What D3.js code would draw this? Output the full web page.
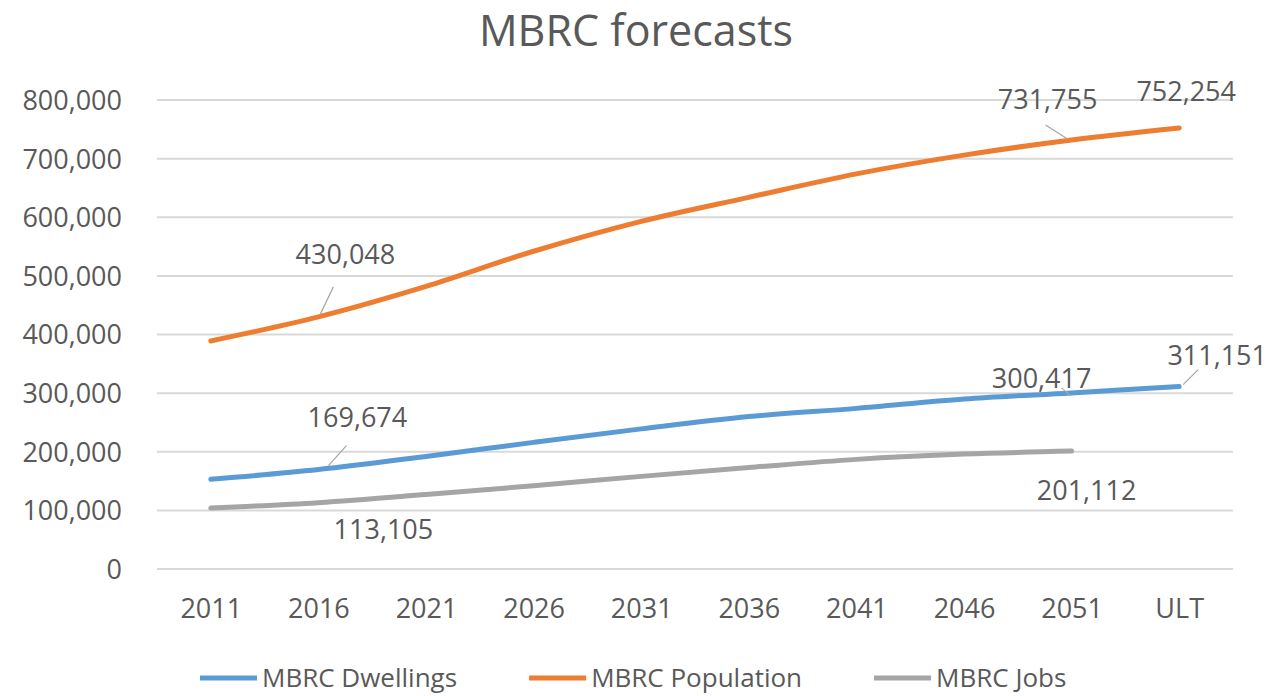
<!DOCTYPE html>
<html>
<head>
<meta charset="utf-8">
<script src="https://cdn.jsdelivr.net/npm/d3@7"></script>
<style>
  html, body { margin: 0; padding: 0; background: #fff; }
  text { font-family: "Open Sans", sans-serif; fill: #595959; }
</style>
</head>
<body>
<svg id="chart" width="1279" height="696"></svg>
<script>
const categories = ["2011","2016","2021","2026","2031","2036","2041","2046","2051","ULT"];
const dwellings  = [153000, 169674, 192000, 216000, 239000, 260000, 274000, 290000, 300417, 311151];
const population = [389000, 430048, 482000, 542000, 593000, 634000, 674000, 706000, 731755, 752254];
const jobs       = [104000, 113105, 127000, 142000, 158000, 173000, 187000, 196000, 201112, null];
const yTicks = [0, 100000, 200000, 300000, 400000, 500000, 600000, 700000, 800000];
const seriesNames = ["MBRC Dwellings", "MBRC Population", "MBRC Jobs"];
const chartTitle = "MBRC forecasts";

const colors = ["#5b9bd5", "#ed7d31", "#a5a5a5"];
const seriesData = [dwellings, population, jobs];

// data label placement (series index, point index, offsets, optional leader)
const labelCfg = [
  {s: 1, i: 1, dx: 27, dy: -62, leader: [15, -30, 2, -3]},
  {s: 1, i: 8, dx: -24, dy: -40, leader: [-26, -15, -4, -1]},
  {s: 1, i: 9, dx: 7, dy: -36, leader: null},
  {s: 0, i: 1, dx: 39, dy: -52, leader: [28, -24, 10, -4]},
  {s: 0, i: 8, dx: -30, dy: -14, leader: [-10, -5, -1, 3]},
  {s: 0, i: 9, dx: 38, dy: -31, leader: [19, -17, 4, -2]},
  {s: 2, i: 1, dx: 65, dy: 27, leader: null},
  {s: 2, i: 8, dx: 15, dy: 39, leader: null}
];

const svg = d3.select("#chart");
const mLeft = 157, mRight = 1233, mTop = 100, mBottom = 569;

const x = d3.scalePoint().domain(categories).range([mLeft, mRight]).padding(0.5);
const y = d3.scaleLinear().domain([0, 800000]).range([mBottom, mTop]);
const fmt = d3.format(",");

// title
svg.append("text")
  .attr("x", 636).attr("y", 46)
  .attr("text-anchor", "middle")
  .style("font-size", "43px")
  .text(chartTitle);

// gridlines
svg.append("g").selectAll("line").data(yTicks).join("line")
  .attr("x1", mLeft).attr("x2", mRight)
  .attr("y1", d => y(d)).attr("y2", d => y(d))
  .attr("stroke", "#d9d9d9").attr("stroke-width", 2);

// y axis
const yAxis = svg.append("g")
  .attr("transform", `translate(${mLeft - 35},0)`)
  .call(d3.axisLeft(y).tickValues(yTicks).tickFormat(fmt).tickSize(0).tickPadding(0));
yAxis.select(".domain").remove();
yAxis.selectAll("text").style("font-size", "27px").attr("fill", "#595959").attr("dy", "0.35em");

// x axis
const xAxis = svg.append("g")
  .attr("transform", `translate(0,${mBottom})`)
  .call(d3.axisBottom(x).tickSize(0).tickPadding(30));
xAxis.select(".domain").remove();
xAxis.selectAll("text").style("font-size", "27px").attr("fill", "#595959");

// lines
const line = d3.line()
  .defined(d => d.v != null)
  .x(d => x(d.c)).y(d => y(d.v))
  .curve(d3.curveCatmullRom.alpha(0.5));

seriesData.forEach((arr, si) => {
  const pts = categories.map((c, i) => ({c, v: arr[i]}));
  svg.append("path")
    .datum(pts)
    .attr("fill", "none")
    .attr("stroke", colors[si])
    .attr("stroke-width", 5)
    .attr("stroke-linecap", "round")
    .attr("d", line);
});

// data labels
labelCfg.forEach(l => {
  const v = seriesData[l.s][l.i];
  const px = x(categories[l.i]), py = y(v);
  if (l.leader) {
    svg.append("line")
      .attr("x1", px + l.leader[0]).attr("y1", py + l.leader[1])
      .attr("x2", px + l.leader[2]).attr("y2", py + l.leader[3])
      .attr("stroke", "#a6a6a6").attr("stroke-width", 1.2);
  }
  svg.append("text")
    .attr("x", px + l.dx).attr("y", py + l.dy)
    .attr("text-anchor", "middle")
    .attr("dy", "0.35em")
    .style("font-size", "27px")
    .text(fmt(v));
});

// legend
const legend = svg.append("g");
let lx = 200;
seriesNames.forEach((name, i) => {
  const g = legend.append("g").attr("transform", `translate(${lx},678)`);
  g.append("line").attr("x1", 0).attr("x2", 57).attr("y1", 0).attr("y2", 0)
    .attr("stroke", colors[i]).attr("stroke-width", 5);
  const t = g.append("text").attr("x", 62).attr("dy", "0.35em")
    .style("font-size", "26px").text(name);
  lx += 62 + t.node().getComputedTextLength() + 72;
});
</script>
</body>
</html>
